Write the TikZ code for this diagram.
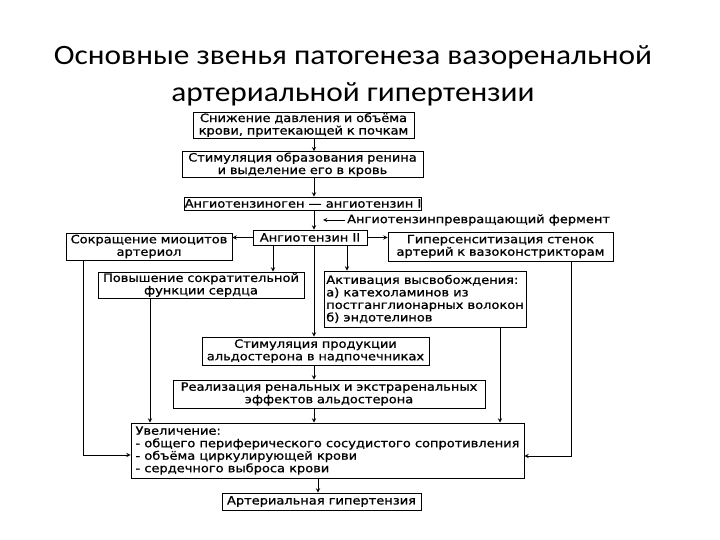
\documentclass[tikz,border=0pt]{standalone}
\usepackage{fontspec}
\setmainfont{Carlito}[FakeStretch=1.12]
\newfontfamily\boxfont{DejaVu Sans}[FakeStretch=1.13, FakeBold=1]
\usetikzlibrary{arrows, positioning}
\tikzstyle{stagebox} = [
	rectangle,
	draw=black,
	line width=0.9pt,
	align=center,
	inner xsep=2pt,
	inner ysep=1pt,
	font=\boxfont\fontsize{11.5}{12.5}\selectfont,
]
\tikzstyle{listbox} = [stagebox, align=left]
\tikzstyle{arrow} = [line width=0.9pt,->,>=stealth]

\begin{document}
\begin{tikzpicture}[x=1pt, y=-1pt]
		\useasboundingbox (0,0) rectangle (720,540);
		\node (title1) [anchor=base, font=\fontsize{28}{36}\selectfont] at (353,65) {Основные звенья патогенеза вазоренальной};
		\node (title2) [anchor=base, font=\fontsize{28}{36}\selectfont] at (353,101.7) {артериальной гипертензии};

		\coordinate (axis) at (314,0);
		\node (snizh) [stagebox, text width=217pt, minimum height=26pt] at (303.5,125) {Снижение давления и объёма\\крови, притекающей к почкам};
		\node (renin) [stagebox, text width=237pt, minimum height=25pt] at (302.5,164.5) {Стимуляция образования ренина\\и выделение его в кровь};
		\node (angI) [stagebox, minimum width=236pt, minimum height=13pt, inner xsep=0.5pt, inner ysep=0pt] at (303,203.5) {Ангиотензиноген — ангиотензин I};
		\node (enzyme) [anchor=west, font=\boxfont\fontsize{11.5}{12.5}\selectfont, inner sep=0pt] at (347,220) {Ангиотензинпревращающий фермент};
		\node (angII) [stagebox, minimum width=114pt, minimum height=15pt, inner ysep=0pt] at (310,237.5) {Ангиотензин II};
		\node (sokr) [stagebox, text width=162pt, minimum height=27pt] at (149,246.5) {Сокращение миоцитов\\\makebox[162pt]{артериол}};
		\node (giper) [stagebox, text width=221pt, minimum height=29pt] at (500.5,246.5) {Гиперсенситизация стенок\\артерий к вазоконстрикторам};
		\node (povysh) [stagebox, text width=202pt, minimum height=26pt] at (201,285) {Повышение сократительной\\функции сердца};
		\node (activ) [listbox, minimum width=202pt, minimum height=56pt] at (425,299) {Активация высвобождения:\\а) катехоламинов из\\постганглионарных волокон\\б) эндотелинов};
		\node (stim) [stagebox, text width=223pt, minimum height=28pt] at (315.5,351) {Стимуляция продукции\\альдостерона в надпочечниках};
		\node (real) [stagebox, text width=308pt, minimum height=28pt] at (329,394) {Реализация ренальных и экстраренальных\\эффектов альдостерона};
		\node (uvel) [listbox, minimum width=393pt, minimum height=55pt] at (327.5,450.5) {Увеличение:\\- общего периферического сосудистого сопротивления\\- объёма циркулирующей крови\\- сердечного выброса крови};
		\node (final) [stagebox, minimum width=199pt, minimum height=17pt, inner ysep=0pt] at (321.5,501.5) {Артериальная гипертензия};

		\draw [arrow] (snizh.south -| axis) -- (renin.north -| axis);
		\draw [arrow] (renin.south -| axis) -- (angI.north -| axis);
		\draw [arrow] (angI.south -| axis) -- (angII.north -| axis);
		\draw [arrow] ([xshift=-2pt]enzyme.west) -- ([xshift=9pt]enzyme.west -| axis);

		\draw [arrow] (angII.west) -- (angII.west -| sokr.east);
		\draw [arrow] (angII.east) -- (angII.east -| giper.west);

		\coordinate (heartin) at (273,0);
		\coordinate (catin) at (347,0);
		\draw [arrow] (angII.south -| heartin) -- (povysh.north -| heartin);
		\draw [arrow] (angII.south -| axis) -- (stim.north -| axis);
		\draw [arrow] (angII.south -| catin) -- (activ.north -| catin);
		\draw [arrow] (stim.south -| axis) -- (real.north -| axis);
		\draw [arrow] (real.south -| axis) -- (uvel.north -| axis);

		\coordinate (leftrail) at (83,455);
		\coordinate (rightrail) at (571,456);
		\draw [arrow] (sokr.south -| leftrail) |- (uvel.west |- leftrail);
		\draw [arrow] (giper.south -| rightrail) |- (uvel.east |- rightrail);

		\coordinate (heartout) at (150,0);
		\coordinate (catout) at (500,0);
		\draw [arrow] (povysh.south -| heartout) -- (uvel.north -| heartout);
		\draw [arrow] (activ.south -| catout) -- (uvel.north -| catout);

		\coordinate (finalin) at (318,0);
		\draw [arrow] (uvel.south -| finalin) -- (final.north -| finalin);
	\end{tikzpicture}
\end{document}
